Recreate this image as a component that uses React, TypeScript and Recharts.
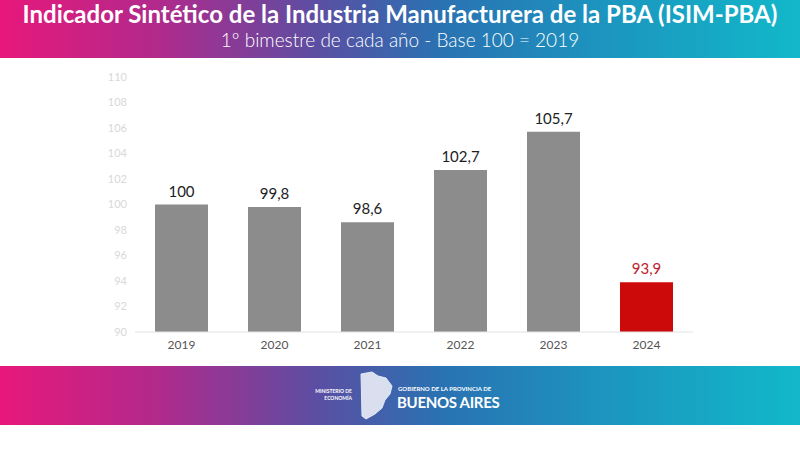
import React from 'react';
import { BarChart, Bar, XAxis, YAxis, Cell, LabelList } from 'recharts';

const years = ['2019', '2020', '2021', '2022', '2023', '2024'];
const values = [100, 99.8, 98.6, 102.7, 105.7, 93.9];
const yTicks = [90, 92, 94, 96, 98, 100, 102, 104, 106, 108, 110];

const data = years.map((year, i) => ({ year, value: values[i] }));

const gradient = 'linear-gradient(90deg, #e8177a 0%, #b02a8c 20%, #5a4fa3 40%, #2a72b2 55%, #1c94bf 75%, #12b8c9 100%)';

const fmt = (v: number) => String(v).replace('.', ',');

const ValueLabel = (props: any) => {
  const { x, y, width, value, index } = props;
  return (
    <text
      x={x + width / 2}
      y={y - 8}
      textAnchor="middle"
      fontSize={15}
      fontFamily="Lato, sans-serif"
      fill={index === years.length - 1 ? '#c0202a' : '#222'}
    >
      {fmt(value)}
    </text>
  );
};

export default function App() {
  return (
    <div style={{ position: 'absolute', left: 0, top: 0, width: 800, height: 450, background: '#fff', overflow: 'hidden', fontFamily: 'Lato, sans-serif' }}>
      <div style={{ position: 'absolute', left: 0, top: 0, width: 800, height: 58, background: gradient, color: '#fff', textAlign: 'center' }}>
        <div style={{ fontSize: 24, fontWeight: 700, lineHeight: '28px', paddingTop: 0, whiteSpace: 'nowrap' }}>
          Indicador Sintético de la Industria Manufacturera de la PBA (ISIM-PBA)
        </div>
        <div style={{ fontSize: 19, fontWeight: 300, lineHeight: '24px', marginTop: 0 }}>
          1º bimestre de cada año - Base 100 = 2019
        </div>
      </div>

      <div style={{ position: 'absolute', left: 0, top: 0 }}>
        <BarChart width={800} height={450} data={data} margin={{ top: 77, right: 107, bottom: 88, left: 95 }}>
          <XAxis
            dataKey="year"
            height={30}
            tickLine={false}
            axisLine={{ stroke: '#e2e2e2' }}
            tick={{ fill: '#555', fontSize: 12, fontFamily: 'Lato, sans-serif' }}
          />
          <YAxis
            width={40}
            domain={[90, 110]}
            ticks={yTicks}
            allowDataOverflow
            tickLine={false}
            axisLine={false}
            tick={{ fill: '#d8d8d8', fontSize: 11, fontFamily: 'Lato, sans-serif' }}
          />
          <Bar dataKey="value" barSize={53} isAnimationActive={false}>
            {data.map((d, i) => (
              <Cell key={d.year} fill={i === years.length - 1 ? '#cc0a0a' : '#8c8c8c'} />
            ))}
            <LabelList dataKey="value" content={ValueLabel} />
          </Bar>
        </BarChart>
      </div>

      <div style={{ position: 'absolute', left: 0, top: 366, width: 800, height: 59, background: gradient }}>
        <div style={{ position: 'absolute', left: 300, top: 22, width: 52, textAlign: 'right', color: '#fff', fontSize: 5, fontWeight: 700, lineHeight: '7px' }}>
          MINISTERIO DE<br />ECONOMÍA
        </div>
        <svg style={{ position: 'absolute', left: 358, top: 4 }} width={38} height={52}>
          <path
            d="M3,4 L14,2 L20,6 L28,8 L34,16 L32,24 L27,30 L24,38 L17,44 L8,49 L4,46 Z"
            fill="#fff"
            fillOpacity={0.8}
            stroke="#dfe9f5"
            strokeWidth={1}
          />
        </svg>
        <div style={{ position: 'absolute', left: 398, top: 19, color: '#fff', fontSize: 6, fontWeight: 700 }}>
          GOBIERNO DE LA PROVINCIA DE
        </div>
        <div style={{ position: 'absolute', left: 397, top: 27, color: '#fff', fontSize: 15, fontWeight: 700, lineHeight: '18px', letterSpacing: -0.3 }}>
          BUENOS AIRES
        </div>
      </div>
    </div>
  );
}
